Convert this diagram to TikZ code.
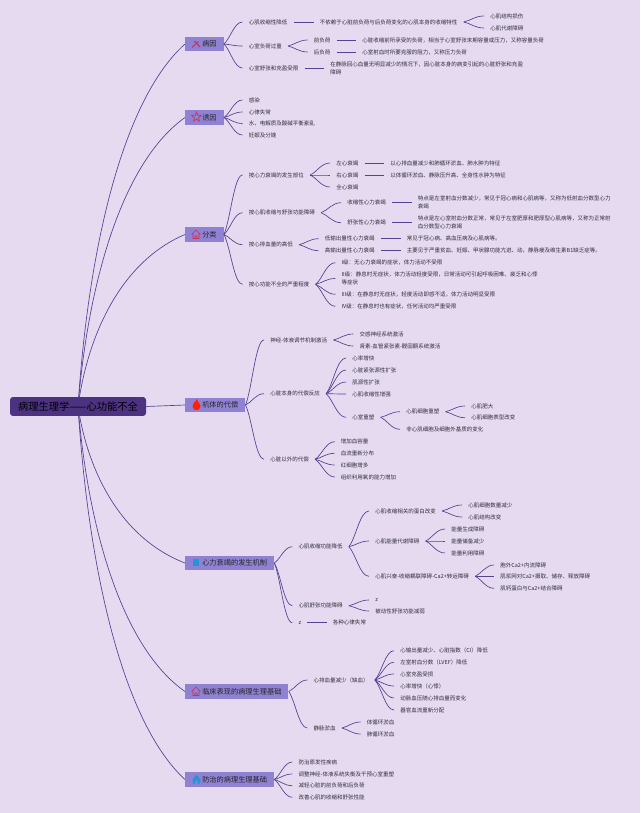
\documentclass[tikz,border=0pt]{standalone}
\usepackage{fontspec}
\setmainfont{Noto Sans CJK SC}
\usetikzlibrary{backgrounds,calc}

\definecolor{bgcol}{RGB}{229,218,240}
\definecolor{rootcol}{RGB}{76,50,128}
\definecolor{boxcol}{RGB}{143,130,210}
\definecolor{linecol}{RGB}{84,66,146}
\definecolor{txtcol}{RGB}{50,46,60}
\definecolor{iconred}{RGB}{205,50,85}
\definecolor{iconblue}{RGB}{35,150,215}

\tikzset{
  rootbox/.style={anchor=center,fill=rootcol,rounded corners=2.2pt,minimum width=102pt,minimum height=14.2pt,inner sep=0pt,text=black,font=\fontsize{7.7}{9}\selectfont},
  branchbox/.style={anchor=west,fill=boxcol,minimum height=11pt,inner xsep=5.25pt,inner ysep=0pt,text=black!85,font=\fontsize{5.4}{7}\selectfont},
  tnode/.style={anchor=west,inner xsep=4.5pt,inner ysep=0pt,text=txtcol,align=left,font=\fontsize{4.13}{6}\selectfont},
  link/.style={draw=linecol,line width=0.5pt},
  curvelink/.style={link,to path={let \p1=(\tikztostart),\p2=(\tikztotarget) in .. controls ({\x1+0.35*(\x2-\x1)},{\y1+0.25*(\y2-\y1)}) and ({\x1+0.55*(\x2-\x1)},\y2) .. (\p2)}},
  rootlink/.style={link,to path={let \p1=(\tikztostart),\p2=(\tikztotarget) in .. controls ({\x1+0.1*(\x2-\x1)},{\y1+0.45*(\y2-\y1)}) and ({\x1+0.43*(\x2-\x1)},{\y1+0.85*(\y2-\y1)}) .. (\p2)}},
  toolicon/.pic={\draw[iconred,line width=0.7pt] (-4,3.5) -- (2.5,-2.5); \draw[iconred,line width=0.9pt] (-1.5,-3) -- (4,3);},
  staricon/.pic={\draw[iconred,line width=0.5pt] (-90:5) -- (-54:2.2) -- (-18:5) -- (18:2.2) -- (54:5) -- (90:2.2) -- (126:5) -- (162:2.2) -- (198:5) -- (234:2.2) -- cycle;},
  houseicon/.pic={\draw[iconred,line width=0.5pt,line join=round] (-4.5,0) -- (0,-4.5) -- (4.5,0) (-3,-1) -- (-3,4) -- (3,4) -- (3,-1) (-1,4) -- (-1,1.5) -- (1,1.5) -- (1,4);},
  flameicon/.pic={\fill[red!75!orange] (0,-6) .. controls (1,-3) and (4.5,-1) .. (4,2) .. controls (3.6,4.5) and (1.5,5) .. (0,5) .. controls (-1.5,5) and (-3.8,4.5) .. (-4,1.5) .. controls (-4.2,-1) and (-2,-1.5) .. (-2,-3) .. controls (-1.2,-2.5) and (-0.6,-3.5) .. (0,-6) -- cycle;},
  squareicon/.pic={\fill[iconblue] (-3.4,-3.4) rectangle (3.4,3.4);},
  blueicon/.pic={\fill[iconblue] (0,-5) -- (4,0) -- (3.5,4) -- (1.2,4) -- (1.2,1) -- (-1.2,1) -- (-1.2,4) -- (-3.5,4) -- (-4,0) -- cycle;},
}

\begin{document}
\begin{tikzpicture}[x=0.75pt,y=-0.75pt]
\begin{scope}[on background layer]
\fill[bgcol] (0,0) rectangle (640,813);
\end{scope}
\useasboundingbox (0,0) rectangle (640,813);

% Root and branches
\node (xinshuai) [rootbox] at (78,406.5) {病理生理学——心功能不全};
\node (bingyin) [branchbox] at (185,44) {\hspace{7.5pt}病因};
\node (youyin) [branchbox] at (185,117.5) {\hspace{7.5pt}诱因};
\node (fenlei) [branchbox] at (185,234.5) {\hspace{7.5pt}分类};
\node (daichang) [branchbox] at (185,405) {\hspace{7.5pt}机体的代偿};
\node (jizhi) [branchbox] at (185,563) {\hspace{7.5pt}心力衰竭的发生机制};
\node (linchuang) [branchbox] at (185,691.5) {\hspace{7.5pt}临床表现的病理生理基础};
\node (fangzhi) [branchbox] at (185,779.5) {\hspace{7.5pt}防治的病理生理基础};

% Icons
\pic at (196,44) {toolicon};
\pic at (196.5,117) {staricon};
\pic at (196,234.5) {houseicon};
\pic at (196.5,405) {flameicon};
\pic at (196,562.7) {squareicon};
\pic at (196,691.5) {houseicon};
\pic at (196.5,779.5) {blueicon};

% Root links
\begin{scope}[on background layer]
\draw [rootlink] (xinshuai.center) to (bingyin.west);
\draw [rootlink] (xinshuai.center) to (youyin.west);
\draw [rootlink] (xinshuai.center) to (fenlei.west);
\draw [rootlink] (xinshuai.center) to (jizhi.west);
\draw [rootlink] (xinshuai.center) to (linchuang.west);
\draw [rootlink] (xinshuai.center) to (fangzhi.west);
\end{scope}
\draw [link] (xinshuai.east) -- (daichang.west);

% Text Node: etiology
\node (by1) [tnode] at (242.5,22) {心肌收缩性降低};
\node (by1t) [tnode] at (313.5,22) {不依赖于心脏前负荷与后负荷变化的心肌本身的收缩特性};
\node (by1a) [tnode] at (484,16) {心肌结构损伤};
\node (by1b) [tnode] at (484,28) {心肌代谢障碍};
\node (by2) [tnode] at (242.5,46) {心室负荷过重};
\node (by2a) [tnode] at (307.7,40) {前负荷};
\node (by2b) [tnode] at (307.7,52) {后负荷};
\node (by2at) [tnode] at (356,40) {心脏收缩前所承受的负荷，相当于心室舒张末期容量或压力，又称容量负荷};
\node (by2bt) [tnode] at (356,52) {心室射血时所要克服的阻力，又称压力负荷};
\node (by3) [tnode] at (242.5,68) {心室舒张和充盈受限};
\node (by3t) [tnode] at (324,68) {在静脉回心血量无明显减少的情况下，因心脏本身的病变引起的心脏舒张和充盈\\障碍};
%Straight Lines
\draw [curvelink] (bingyin.east) to (by1.west);
\draw [curvelink] (bingyin.east) to (by2.west);
\draw [curvelink] (bingyin.east) to (by3.west);
\draw [link] (by1.east) -- (by1t.west);
\draw [curvelink] (by1t.east) to (by1a.west);
\draw [curvelink] (by1t.east) to (by1b.west);
\draw [curvelink] (by2.east) to (by2a.west);
\draw [curvelink] (by2.east) to (by2b.west);
\draw [link] (by2a.east) -- (by2at.west);
\draw [link] (by2b.east) -- (by2bt.west);
\draw [link] (by3.east) -- (by3t.west);

% Text Node: triggers
\node (yy1) [tnode] at (242.5,100) {感染};
\node (yy2) [tnode] at (242.5,112) {心律失常};
\node (yy3) [tnode] at (242.5,123.5) {水、电解质及酸碱平衡紊乱};
\node (yy4) [tnode] at (242.5,135) {妊娠及分娩};
\draw [curvelink] (youyin.east) to (yy1.west);
\draw [curvelink] (youyin.east) to (yy2.west);
\draw [curvelink] (youyin.east) to (yy3.west);
\draw [curvelink] (youyin.east) to (yy4.west);

% Text Node: classification
\node (fl1) [tnode] at (242.5,175) {按心力衰竭的发生部位};
\node (fl1a) [tnode] at (330,163) {左心衰竭};
\node (fl1b) [tnode] at (330,175) {右心衰竭};
\node (fl1c) [tnode] at (330,187) {全心衰竭};
\node (fl1at) [tnode] at (384,163) {以心排血量减少和肺循环淤血、肺水肿为特征};
\node (fl1bt) [tnode] at (384,175) {以体循环淤血、静脉压升高、全身性水肿为特征};
\node (fl2) [tnode] at (242.5,212.7) {按心肌收缩与舒张功能障碍};
\node (fl2a) [tnode] at (341,202.7) {收缩性心力衰竭};
\node (fl2b) [tnode] at (341,222.7) {舒张性心力衰竭};
\node (fl2at) [tnode] at (411.7,202.7) {特点是左室射血分数减少，常见于冠心病和心肌病等，又称为低射血分数型心力\\衰竭};
\node (fl2bt) [tnode] at (411.7,222.7) {特点是左心室射血分数正常，常见于左室肥厚和肥厚型心肌病等，又称为正常射\\血分数型心力衰竭};
\node (fl3) [tnode] at (242.5,244.7) {按心排血量的高低};
\node (fl3a) [tnode] at (318.7,238.7) {低输出量性心力衰竭};
\node (fl3b) [tnode] at (318.7,250.7) {高输出量性心力衰竭};
\node (fl3at) [tnode] at (400.7,238.7) {常见于冠心病、高血压病及心肌病等。};
\node (fl3bt) [tnode] at (400.7,250.7) {主要见于严重贫血、妊娠、甲状腺功能亢进、动、静脉瘘及维生素B1缺乏症等。};
\node (fl4) [tnode] at (242.5,284.3) {按心功能不全的严重程度};
\node (fl4a) [tnode] at (335.3,262.7) {I级：无心力衰竭的症状，体力活动不受限};
\node (fl4b) [tnode] at (335.3,278.5) {II级：静息时无症状，体力活动轻度受限，日常活动可引起呼吸困难、疲乏和心悸\\等症状};
\node (fl4c) [tnode] at (335.3,294.3) {III级：在静息时无症状，轻度活动即感不适，体力活动明显受限};
\node (fl4d) [tnode] at (335.3,306.3) {IV级：在静息时也有症状，任何活动均严重受限};
\draw [curvelink] (fenlei.east) to (fl1.west);
\draw [curvelink] (fenlei.east) to (fl2.west);
\draw [curvelink] (fenlei.east) to (fl3.west);
\draw [curvelink] (fenlei.east) to (fl4.west);
\draw [curvelink] (fl1.east) to (fl1a.west);
\draw [curvelink] (fl1.east) to (fl1b.west);
\draw [curvelink] (fl1.east) to (fl1c.west);
\draw [link] (fl1a.east) -- (fl1at.west);
\draw [link] (fl1b.east) -- (fl1bt.west);
\draw [curvelink] (fl2.east) to (fl2a.west);
\draw [curvelink] (fl2.east) to (fl2b.west);
\draw [link] (fl2a.east) -- (fl2at.west);
\draw [link] (fl2b.east) -- (fl2bt.west);
\draw [curvelink] (fl3.east) to (fl3a.west);
\draw [curvelink] (fl3.east) to (fl3b.west);
\draw [link] (fl3a.east) -- (fl3at.west);
\draw [link] (fl3b.east) -- (fl3bt.west);
\draw [curvelink] (fl4.east) to (fl4a.west);
\draw [curvelink] (fl4.east) to (fl4b.west);
\draw [curvelink] (fl4.east) to (fl4c.west);
\draw [curvelink] (fl4.east) to (fl4d.west);

% Text Node: compensation
\node (dc1) [tnode] at (264,340) {神经-体液调节机制激活};
\node (dc1a) [tnode] at (353.3,334) {交感神经系统激活};
\node (dc1b) [tnode] at (353.3,346) {肾素-血管紧张素-醛固酮系统激活};
\node (dc2) [tnode] at (264,393.7) {心脏本身的代偿反应};
\node (dc2a) [tnode] at (346,358) {心率增快};
\node (dc2b) [tnode] at (346,370) {心脏紧张源性扩张};
\node (dc2c) [tnode] at (346,382) {肌源性扩张};
\node (dc2d) [tnode] at (346,394) {心肌收缩性增强};
\node (dc2e) [tnode] at (346,417.3) {心室重塑};
\node (dc2e1) [tnode] at (400,411.7) {心肌细胞重塑};
\node (dc2e2) [tnode] at (400,429.3) {非心肌细胞及细胞外基质的变化};
\node (dc2e1a) [tnode] at (465,406) {心肌肥大};
\node (dc2e1b) [tnode] at (465,417.7) {心肌细胞表型改变};
\node (dc3) [tnode] at (264,459.3) {心脏以外的代偿};
\node (dc3a) [tnode] at (334.7,441.7) {增加血容量};
\node (dc3b) [tnode] at (334.7,453.3) {血流重新分布};
\node (dc3c) [tnode] at (334.7,465) {红细胞增多};
\node (dc3d) [tnode] at (334.7,477) {组织利用氧的能力增加};
\draw [curvelink] (daichang.east) to (dc1.west);
\draw [curvelink] (daichang.east) to (dc2.west);
\draw [curvelink] (daichang.east) to (dc3.west);
\draw [curvelink] (dc1.east) to (dc1a.west);
\draw [curvelink] (dc1.east) to (dc1b.west);
\draw [curvelink] (dc2.east) to (dc2a.west);
\draw [curvelink] (dc2.east) to (dc2b.west);
\draw [curvelink] (dc2.east) to (dc2c.west);
\draw [curvelink] (dc2.east) to (dc2d.west);
\draw [curvelink] (dc2.east) to (dc2e.west);
\draw [curvelink] (dc2e.east) to (dc2e1.west);
\draw [curvelink] (dc2e.east) to (dc2e2.west);
\draw [curvelink] (dc2e1.east) to (dc2e1a.west);
\draw [curvelink] (dc2e1.east) to (dc2e1b.west);
\draw [curvelink] (dc3.east) to (dc3a.west);
\draw [curvelink] (dc3.east) to (dc3b.west);
\draw [curvelink] (dc3.east) to (dc3c.west);
\draw [curvelink] (dc3.east) to (dc3d.west);

% Text Node: mechanism
\node (jz1) [tnode] at (292.3,546.7) {心肌收缩功能降低};
\node (jz1a) [tnode] at (369,511) {心肌收缩相关的蛋白改变};
\node (jz1a1) [tnode] at (462,505) {心肌细胞数量减少};
\node (jz1a2) [tnode] at (462,517) {心肌结构改变};
\node (jz1b) [tnode] at (369,541) {心肌能量代谢障碍};
\node (jz1b1) [tnode] at (445,529) {能量生成障碍};
\node (jz1b2) [tnode] at (445,541) {能量储备减少};
\node (jz1b3) [tnode] at (445,553) {能量利用障碍};
\node (jz1c) [tnode] at (369,576.3) {心肌兴奋-收缩耦联障碍-Ca2+转运障碍};
\node (jz1c1) [tnode] at (494,565) {胞外Ca2+内流障碍};
\node (jz1c2) [tnode] at (494,576.3) {肌浆网对Ca2+摄取、储存、释放障碍};
\node (jz1c3) [tnode] at (494,588.3) {肌钙蛋白与Ca2+结合障碍};
\node (jz2) [tnode] at (292.3,605.7) {心肌舒张功能障碍};
\node (jz2a) [tnode] at (369,600) {z};
\node (jz2b) [tnode] at (369,611) {被动性舒张功能减弱};
\node (jz3) [tnode] at (292.3,622.7) {z};
\node (jz3t) [tnode] at (326.7,622.7) {各种心律失常};
\draw [curvelink] (jizhi.east) to (jz1.west);
\draw [curvelink] (jizhi.east) to (jz2.west);
\draw [curvelink] (jizhi.east) to (jz3.west);
\draw [curvelink] (jz1.east) to (jz1a.west);
\draw [curvelink] (jz1.east) to (jz1b.west);
\draw [curvelink] (jz1.east) to (jz1c.west);
\draw [curvelink] (jz1a.east) to (jz1a1.west);
\draw [curvelink] (jz1a.east) to (jz1a2.west);
\draw [curvelink] (jz1b.east) to (jz1b1.west);
\draw [curvelink] (jz1b.east) to (jz1b2.west);
\draw [curvelink] (jz1b.east) to (jz1b3.west);
\draw [curvelink] (jz1c.east) to (jz1c1.west);
\draw [curvelink] (jz1c.east) to (jz1c2.west);
\draw [curvelink] (jz1c.east) to (jz1c3.west);
\draw [curvelink] (jz2.east) to (jz2a.west);
\draw [curvelink] (jz2.east) to (jz2b.west);
\draw [link] (jz3.east) -- (jz3t.west);

% Text Node: clinical
\node (lc1) [tnode] at (307.3,680) {心排血量减少（缺血）};
\node (lc1a) [tnode] at (394,650.7) {心输出量减少、心脏指数（CI）降低};
\node (lc1b) [tnode] at (394,662.3) {左室射血分数（LVEF）降低};
\node (lc1c) [tnode] at (394,674) {心室充盈受损};
\node (lc1d) [tnode] at (394,686) {心率增快（心悸）};
\node (lc1e) [tnode] at (394,698) {动脉血压随心排血量而变化};
\node (lc1f) [tnode] at (394,710) {器官血流重新分配};
\node (lc2) [tnode] at (307.3,728) {静脉淤血};
\node (lc2a) [tnode] at (360.7,722) {体循环淤血};
\node (lc2b) [tnode] at (360.7,734) {肺循环淤血};
\draw [curvelink] (linchuang.east) to (lc1.west);
\draw [curvelink] (linchuang.east) to (lc2.west);
\draw [curvelink] (lc1.east) to (lc1a.west);
\draw [curvelink] (lc1.east) to (lc1b.west);
\draw [curvelink] (lc1.east) to (lc1c.west);
\draw [curvelink] (lc1.east) to (lc1d.west);
\draw [curvelink] (lc1.east) to (lc1e.west);
\draw [curvelink] (lc1.east) to (lc1f.west);
\draw [curvelink] (lc2.east) to (lc2a.west);
\draw [curvelink] (lc2.east) to (lc2b.west);

% Text Node: treatment
\node (fz1) [tnode] at (292.3,762) {防治原发性疾病};
\node (fz2) [tnode] at (292.3,774) {调整神经-体液系统失衡及干预心室重塑};
\node (fz3) [tnode] at (292.3,785.7) {减轻心脏的前负荷和后负荷};
\node (fz4) [tnode] at (292.3,797.3) {改善心肌的收缩和舒张性能};
\draw [curvelink] (fangzhi.east) to (fz1.west);
\draw [curvelink] (fangzhi.east) to (fz2.west);
\draw [curvelink] (fangzhi.east) to (fz3.west);
\draw [curvelink] (fangzhi.east) to (fz4.west);
\end{tikzpicture}
\end{document}
